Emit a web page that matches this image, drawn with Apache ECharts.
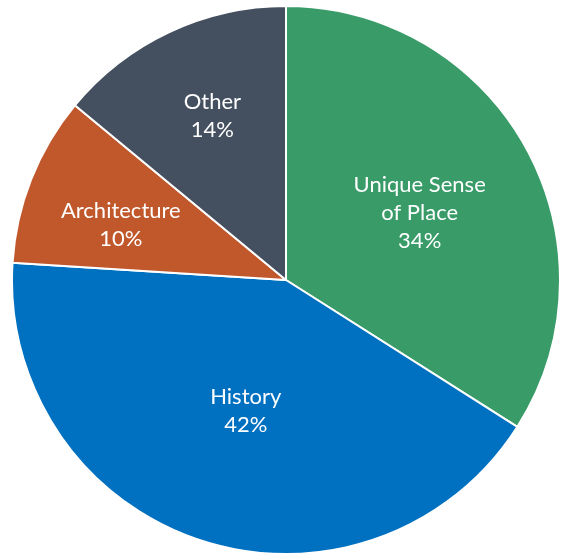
<!DOCTYPE html>
<html>
<head>
<meta charset="utf-8">
<script src="https://cdn.jsdelivr.net/npm/echarts@6/dist/echarts.min.js"></script>
<style>
  html, body { margin: 0; padding: 0; background: #ffffff; }
  #chart { width: 561px; height: 555px; }
</style>
</head>
<body>
<div id="chart"></div>
<script>
// Share of responses by category, clockwise from 12 o'clock
const categories = ['Unique Sense\nof Place', 'History', 'Architecture', 'Other'];
const shares = [34, 42, 10, 14];
const sliceColors = ['#389b68', '#0070c0', '#c0582c', '#44505f'];

// Nudges for labels that sit off the slice midpoint
const labelShift = [[11, 0], [3, -2], [-35, -4], [-14, -37]];

const chart = echarts.init(document.getElementById('chart'), null, { renderer: 'canvas' });

chart.setOption({
  backgroundColor: '#ffffff',
  animation: false,
  series: [{
    type: 'pie',
    center: [286, 280],
    radius: [0, 274],
    startAngle: 90,
    clockwise: true,
    data: categories.map((name, i) => ({
      name: name,
      value: shares[i],
      itemStyle: { color: sliceColors[i] }
    })),
    itemStyle: { borderColor: '#ffffff', borderWidth: 2 },
    label: {
      show: true,
      position: 'inside',
      formatter: p => p.name + '\n' + p.value + '%',
      color: '#ffffff',
      fontFamily: 'Lato, sans-serif',
      fontSize: 22,
      lineHeight: 28,
      align: 'center'
    },
    labelLine: { show: false },
    labelLayout: p => ({ dx: labelShift[p.dataIndex][0], dy: labelShift[p.dataIndex][1] }),
    emphasis: { disabled: true }
  }]
});
</script>
</body>
</html>
